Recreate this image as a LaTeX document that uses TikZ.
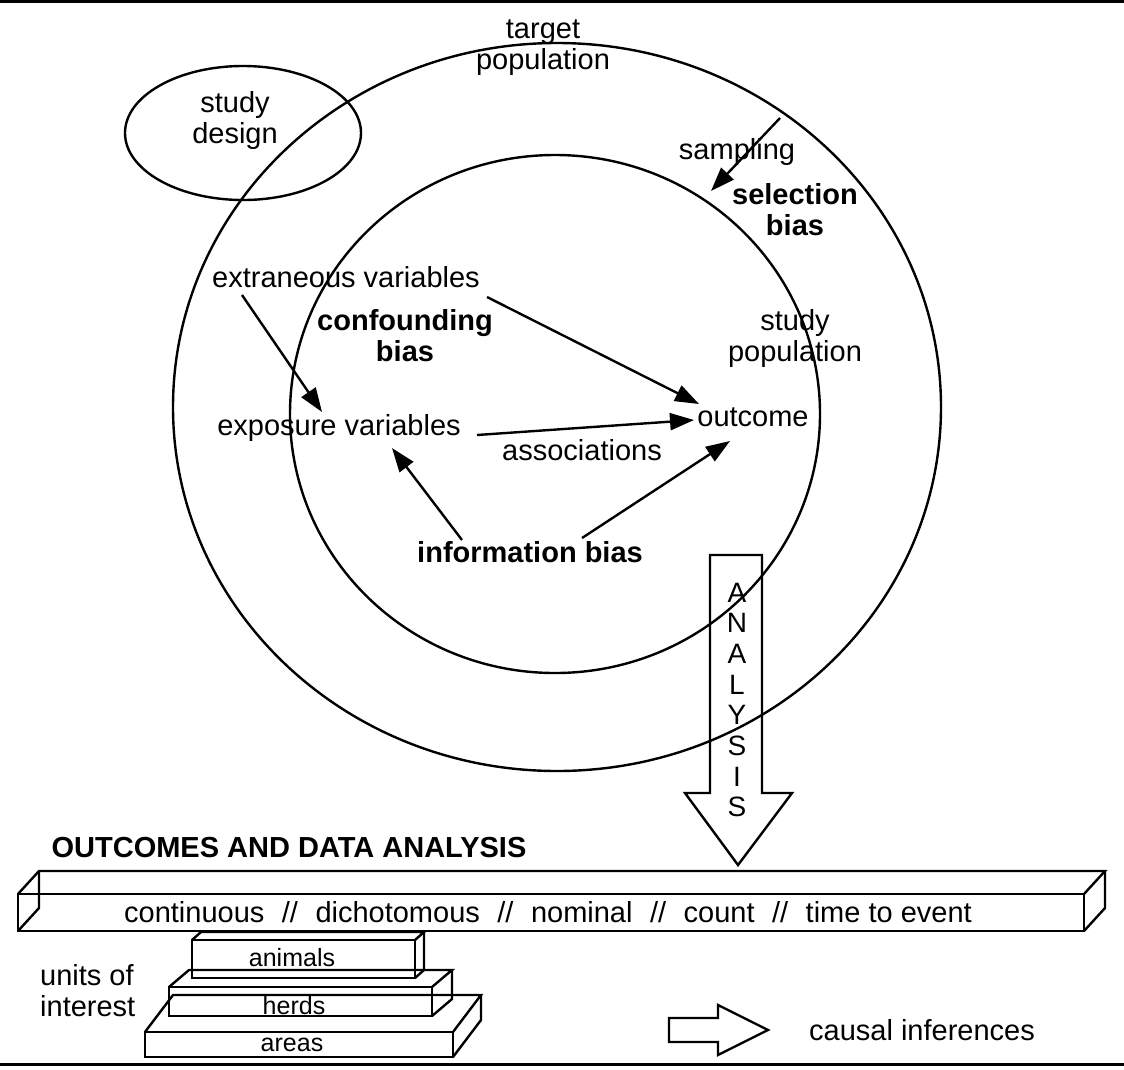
\documentclass[tikz,border=0pt]{standalone}
\usepackage{fontspec}
\setmainfont{Liberation Sans}
\usetikzlibrary{arrows.meta}
\begin{document}
\begin{tikzpicture}[x=1pt,y=-1pt,
  txt/.style={font=\fontsize{29}{31}\selectfont, inner sep=0pt, align=center},
  btxt/.style={font=\fontsize{29}{31}\selectfont\bfseries, inner sep=0pt, align=center},
  stxt/.style={font=\fontsize{25}{27}\selectfont, inner sep=0pt, align=center},
  ln/.style={line width=2.4pt},
  arr/.style={line width=2.4pt, -{Triangle[length=24pt,width=17pt]}},
]
\useasboundingbox (0,0) rectangle (1124,1069);
% frame lines
\draw[line width=3pt] (0,1.5) -- (1124,1.5);
\draw[line width=3pt] (0,1064) -- (1124,1064);

% populations and study design
\draw[ln] (557,407) ellipse [x radius=384pt, y radius=364pt];
\draw[ln] (555,414) ellipse [x radius=265pt, y radius=259pt];
\draw[ln] (243,133) ellipse [x radius=118pt, y radius=67pt];

% labels
\node[txt] (tgt) at (543,48) {target\\population};
\node[txt] (design) at (235,120) {study\\design};
\node[txt] (samp) at (737,152) {sampling};
\node[btxt] (sel) at (795,210) {selection\\bias};
\node[txt] (extr) at (346,277) {extraneous variables};
\node[btxt] (conf) at (405,336) {confounding\\bias};
\node[txt] (spop) at (795,338) {study\\population};
\node[txt] (expo) at (339,428) {exposure variables};
\node[txt] (assoc) at (582,450) {associations};
\node[txt] (outc) at (753,417) {outcome};
\node[btxt] (info) at (530,552) {information bias};

% arrow end points
\coordinate (s1) at (780,118);  \coordinate (s2) at (711,191);
\coordinate (e1) at (242,295);  \coordinate (e2) at (322,412);
\coordinate (x1) at (487,297);  \coordinate (x2) at (699,404);
\coordinate (a1) at (477,435);  \coordinate (a2) at (694,420);
\coordinate (i1) at (462,540);  \coordinate (i2) at (392,448);
\coordinate (j1) at (582,538);  \coordinate (j2) at (730,441);
\draw[arr] (s1) -- (s2);
\draw[arr] (e1) -- (e2);
\draw[arr] (x1) -- (x2);
\draw[arr] (a1) -- (a2);
\draw[arr] (i1) -- (i2);
\draw[arr] (j1) -- (j2);

% ANALYSIS block arrow
\draw[ln] (710,555) -- (762,555) -- (762,793) -- (792,793) -- (738,865) -- (685,793) -- (710,793) -- cycle;
\node[font=\fontsize{28}{30.7}\selectfont, inner sep=0pt, align=center] (anal) at (737,700) {A\\N\\A\\L\\Y\\S\\I\\S};

% outcomes bar
\node[btxt] (title) at (289,848) {OUTCOMES AND DATA ANALYSIS};
\draw[ln] (18,894) rectangle (1084,931);
\draw[ln] (18,894) -- (39,871) -- (1105,871) -- (1084,894);
\draw[ln] (1105,871) -- (1105,908) -- (1084,931);
\draw[ln] (39,871) -- (39,908) -- (18,931);
\node[txt] (types) at (548,912) {continuous\hspace{17.5pt}//\hspace{17.5pt}dichotomous\hspace{17.5pt}//\hspace{17.5pt}nominal\hspace{17.5pt}//\hspace{17.5pt}count\hspace{17.5pt}//\hspace{17.5pt}time to event};

% units of interest
\node[txt, align=left, anchor=west] (units) at (40,991) {units of\\interest};
% animals
\draw[ln] (192,940) rectangle (415,978);
\draw[ln] (192,940) -- (201,932) -- (424,932) -- (415,940);
\draw[ln] (424,932) -- (424,970) -- (415,978);
\node[stxt] (anim) at (292,958) {animals};
% herds
\draw[ln] (169,987) rectangle (432,1016);
\draw[ln] (169,987) -- (189,970) -- (452,970) -- (432,987);
\draw[ln] (452,970) -- (452,999) -- (432,1016);
\node[stxt] (herds) at (294,1006) {herds};
% areas
\draw[ln] (145,1032) rectangle (453,1057);
\draw[ln] (145,1032) -- (173,995) -- (481,995) -- (453,1032);
\draw[ln] (481,995) -- (481,1020) -- (453,1057);
\node[stxt] (areas) at (292,1045) {areas};

% causal inferences
\draw[ln] (669,1018) -- (718,1018) -- (718,1005) -- (768,1030) -- (718,1055) -- (718,1042) -- (669,1042) -- cycle;
\node[txt] (causal) at (922,1030) {causal inferences};
\end{tikzpicture}
\end{document}
